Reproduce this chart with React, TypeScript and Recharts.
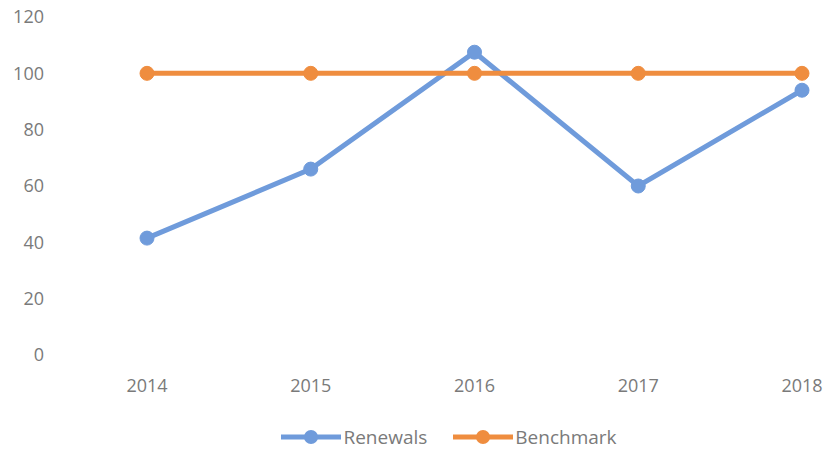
import React from "react";
import { LineChart, Line, XAxis, YAxis, Legend } from "recharts";

const years = ["2014", "2015", "2016", "2017", "2018"];
const renewals = [41.5, 66, 107.5, 60, 94];
const benchmark = [100, 100, 100, 100, 100];
const yTicks = [0, 20, 40, 60, 80, 100, 120];

const data = years.map((y, i) => ({ year: y, Renewals: renewals[i], Benchmark: benchmark[i] }));

const BLUE = "#6f9bdb";
const ORANGE = "#ef8d3f";
const TEXT = "#7a7a7a";
const FONT = "'Open Sans', sans-serif";

const LegendItem = ({ color, label }: { color: string; label: string }) => (
  <div style={{ display: "flex", alignItems: "center", marginRight: 26 }}>
    <svg width={60} height={16} style={{ display: "block" }}>
      <line x1={0} y1={8} x2={60} y2={8} stroke={color} strokeWidth={5} strokeLinecap="round" />
      <circle cx={30} cy={8} r={7} fill={color} />
    </svg>
    <span style={{ fontFamily: FONT, fontSize: 19, color: TEXT, marginLeft: 2 }}>{label}</span>
  </div>
);

const CustomLegend = () => (
  <div style={{ display: "flex", justifyContent: "center", alignItems: "center", height: 24, paddingLeft: 122 }}>
    <LegendItem color={BLUE} label="Renewals" />
    <LegendItem color={ORANGE} label="Benchmark" />
  </div>
);

export default function App() {
  return (
    <div style={{ position: "absolute", left: 0, top: 0, background: "#fff" }}>
      <LineChart width={827} height={449} data={data} margin={{ top: 17, right: 25, left: 0, bottom: 0 }}>
        <XAxis
          dataKey="year"
          axisLine={false}
          tickLine={false}
          padding={{ left: 87, right: 0 }}
          height={70}
          tickMargin={18}
          tick={{ fill: TEXT, fontSize: 18, fontFamily: FONT }}
        />
        <YAxis
          domain={[0, 120]}
          ticks={yTicks}
          axisLine={false}
          tickLine={false}
          width={60}
          tickMargin={10}
          tick={{ fill: TEXT, fontSize: 18, fontFamily: FONT }}
        />
        <Legend verticalAlign="bottom" content={<CustomLegend />} />
        <Line
          dataKey="Renewals"
          stroke={BLUE}
          strokeWidth={5}
          dot={{ r: 7, fill: BLUE, stroke: BLUE, strokeWidth: 1 }}
          isAnimationActive={false}
        />
        <Line
          dataKey="Benchmark"
          stroke={ORANGE}
          strokeWidth={5}
          dot={{ r: 7, fill: ORANGE, stroke: ORANGE, strokeWidth: 1 }}
          isAnimationActive={false}
        />
      </LineChart>
    </div>
  );
}
